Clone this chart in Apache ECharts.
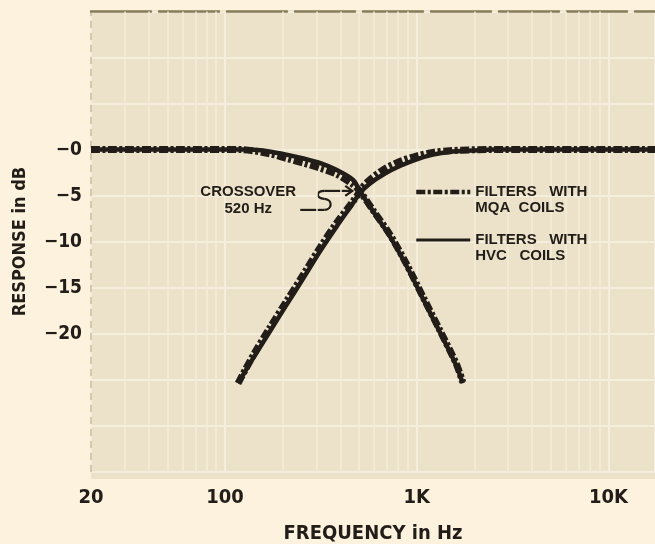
<!DOCTYPE html>
<html><head><meta charset="utf-8">
<script src="https://cdn.jsdelivr.net/npm/echarts@6/dist/echarts.min.js"></script>
<style>html,body{margin:0;padding:0;background:#fcf2de;}#c{width:655px;height:544px;}</style>
</head><body><div id="c"></div>
<script>
// ---- data ----
const xTickValues = [20, 100, 1000, 10000];
const xTickLabels = ['20', '100', '1K', '10K'];
const yTickValues = [0, -5, -10, -15, -20];
const yTickLabels = ['\u22120', '\u22125', '\u221210', '\u221215', '\u221220'];

// MQA coils (dash-dot) low-pass
const mqaLowFreq = [20, 60, 120, 171, 209, 260, 312, 381, 466, 504, 592, 723, 883, 1078, 1318, 1610, 1740];
const mqaLowDb   = [0, 0, 0, -0.45, -0.95, -1.5, -2.0, -2.65, -3.8, -4.5, -6.6, -9.2, -12.4, -16.0, -19.6, -23.3, -25.3];
// MQA coils (dash-dot) high-pass
const mqaHighFreq = [117, 140, 171, 209, 256, 312, 381, 466, 504, 547, 667, 815, 996, 1216, 1485, 2400, 17500];
const mqaHighDb   = [-25.4, -22.4, -19.4, -16.5, -13.6, -10.7, -8.0, -5.6, -4.6, -3.6, -2.2, -1.3, -0.7, -0.3, -0.12, 0, 0];
// HVC coils (solid) low-pass
const hvcLowFreq = [20, 60, 135, 170, 209, 260, 312, 381, 466, 504, 592, 723, 883, 1078, 1318, 1610, 1740];
const hvcLowDb   = [0, 0, 0, -0.2, -0.55, -1.0, -1.45, -2.2, -3.3, -4.45, -6.7, -9.4, -12.6, -16.2, -19.8, -23.5, -25.4];
// HVC coils (solid) high-pass
const hvcHighFreq = [117, 140, 171, 209, 256, 312, 381, 466, 504, 569, 683, 822, 1000, 1216, 1480, 1960, 2500, 17500];
const hvcHighDb   = [-25.4, -22.7, -19.8, -16.9, -14.0, -11.1, -8.4, -5.8, -4.75, -3.7, -2.6, -1.75, -1.05, -0.55, -0.25, -0.1, 0, 0];

// faint log-paper grid lines
const gridFreqs = [30, 40, 50, 60, 70, 80, 90, 200, 300, 400, 500, 600, 700, 800, 900,
                   2000, 3000, 4000, 5000, 6000, 7000, 8000, 9000];
const crossFreq = 520;
const crossDb = -4.6;
const crossText = 'CROSSOVER\n520 Hz';

// ---- chart ----
const ink = '#221d18';
const condensed = "'Liberation Sans Narrow','DejaVu Sans Condensed','Roboto Condensed',sans-serif";
const pairs = (f, d) => f.map((v, i) => [v, d[i]]);
const xLabelMap = {};
xTickValues.forEach((v, i) => { xLabelMap[v] = xTickLabels[i]; });
const yLabelMap = {};
yTickValues.forEach((v, i) => { yLabelMap[v] = yTickLabels[i]; });

const chart = echarts.init(document.getElementById('c'), null, {renderer: 'canvas'});
const mqaLine = {color: ink, width: 7, type: [9, 2.5, 3, 2.5], cap: 'butt'};
const hvcLine = {color: ink, width: 4.5, type: 'solid', cap: 'butt'};
const lineCommon = {type: 'line', symbol: 'none', showSymbol: false, smooth: 0.3, itemStyle: {color: ink}};

chart.setOption({
  animation: false,
  backgroundColor: '#fcf2de',
  grid: {left: 91, right: 0, top: 11.6, bottom: 72.4, containLabel: false, outerBoundsMode: 'none'},
  xAxis: [{
    type: 'log', logBase: 10, min: 20, max: 17500,
    axisLine: {show: false}, axisTick: {show: false},
    axisLabel: {
      margin: 16, color: ink, fontSize: 20, fontWeight: 'bold', fontFamily: condensed,
      showMaxLabel: false,
      formatter: v => xLabelMap[Math.round(v)] || ''
    },
    splitLine: {show: true, lineStyle: {color: '#f6eedd', width: 2}},
    name: 'FREQUENCY in Hz', nameLocation: 'middle', nameGap: 52,
    nameTextStyle: {color: ink, fontSize: 20, fontWeight: 'bold', fontFamily: condensed}
  }, {
    type: 'log', logBase: 10, min: 20, max: 17500, position: 'top',
    axisLine: {show: true, lineStyle: {color: '#877c59', width: 2.5, type: [60, 8]}},
    axisTick: {show: false}, axisLabel: {show: false}, splitLine: {show: false}
  }],
  yAxis: {
    type: 'value', min: -35, max: 15, interval: 5,
    axisLine: {show: true, lineStyle: {color: '#c7bb9c', width: 1.5, type: [6, 6]}},
    axisTick: {show: false},
    axisLabel: {
      margin: 9, color: ink, fontSize: 19, fontWeight: 'bold', fontFamily: condensed,
      formatter: v => yLabelMap[v] || ''
    },
    splitLine: {show: true, lineStyle: {color: '#f6eedd', width: 2}},
    name: 'RESPONSE in dB', nameLocation: 'middle', nameGap: 62, nameRotate: 90,
    nameTextStyle: {color: ink, fontSize: 18, fontWeight: 'bold', fontFamily: condensed}
  },
  legend: {
    left: 414, top: 168, orient: 'vertical', padding: 0, itemGap: 0,
    itemWidth: 54, itemHeight: 14, selectedMode: false, z: 20,
    itemStyle: {opacity: 0},
    data: [{name: 'MQA COILS', lineStyle: {width: 4.5}}, {name: 'HVC COILS', lineStyle: {width: 3}}],
    formatter: n => ' \nFILTERS   WITH\n' + (n === 'MQA COILS' ? 'MQA  COILS' : 'HVC   COILS'),
    textStyle: {fontFamily: "'Liberation Sans',Arial,sans-serif", fontWeight: 'bold', fontSize: 15,
                color: ink, lineHeight: 16}
  },
  series: [
    {type: 'line', name: 'grid', data: [], z: 1, silent: true,
     markLine: {silent: true, z: 1, symbol: 'none', label: {show: false},
                lineStyle: {color: '#f4ecd9', width: 1.5, type: 'solid'},
                data: gridFreqs.map(f => ({xAxis: f}))}},
    Object.assign({}, lineCommon, {name: 'MQA COILS', data: pairs(mqaLowFreq, mqaLowDb), lineStyle: mqaLine, z: 3}),
    Object.assign({}, lineCommon, {name: 'MQA COILS', data: pairs(mqaHighFreq, mqaHighDb), lineStyle: mqaLine, z: 3}),
    Object.assign({}, lineCommon, {name: 'HVC COILS', data: pairs(hvcLowFreq, hvcLowDb), lineStyle: hvcLine, z: 4}),
    Object.assign({}, lineCommon, {name: 'HVC COILS', data: pairs(hvcHighFreq, hvcHighDb), lineStyle: hvcLine, z: 4})
  ]
});

const [cx, cy] = chart.convertToPixel({xAxisIndex: 0, yAxisIndex: 0}, [crossFreq, crossDb]);
const arrowStyle = {stroke: ink, lineWidth: 2.2, fill: null};
chart.setOption({
  graphic: [
    {type: 'rect', silent: true, z: -100,
     shape: {x: 91, y: 10, width: 564, height: 469}, style: {fill: '#ece2c9'}},
    {type: 'text', x: cx - 114, y: cy + 8, z: 10,
     style: {text: crossText, align: 'center', verticalAlign: 'middle', lineHeight: 17,
             fontSize: 15, fontWeight: 'bold', fontFamily: "'Liberation Sans',Arial,sans-serif", fill: ink}},
    {type: 'group', x: cx - 10, y: cy - 1, z: 10, children: [
      {type: 'line', shape: {x1: -52, y1: 19, x2: -28, y2: 19}, style: arrowStyle},
      {type: 'bezierCurve', shape: {x1: -28, y1: 19, cpx1: -20, cpy1: 19, cpx2: -19, cpy2: 8.5, x2: -28, y2: 8}, style: arrowStyle},
      {type: 'bezierCurve', shape: {x1: -28, y1: 8, cpx1: -37, cpy1: 7.5, cpx2: -36, cpy2: 0, x2: -28, y2: 0}, style: arrowStyle},
      {type: 'line', shape: {x1: -28, y1: 0, x2: 0, y2: 0}, style: arrowStyle},
      {type: 'polyline', shape: {points: [[-7, -5], [0, 0], [-7, 5]]}, style: arrowStyle}
    ]}
  ]
});
</script></body></html>
